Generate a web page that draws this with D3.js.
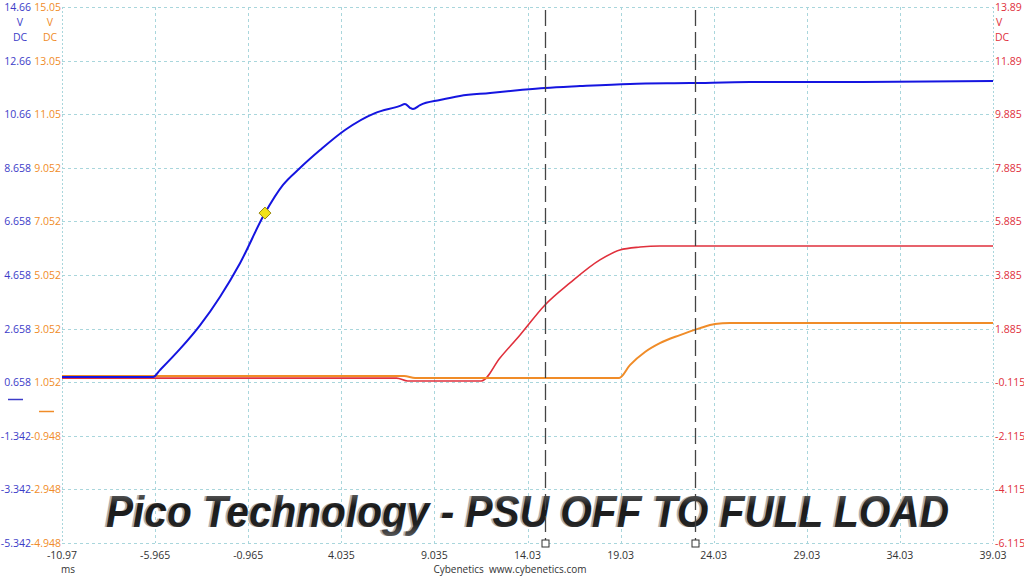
<!DOCTYPE html>
<html><head><meta charset="utf-8">
<script src="https://cdn.jsdelivr.net/npm/d3@7"></script>
<style>
body{margin:0;background:#fff;}
svg{display:block;font-family:"Open Sans","Noto Sans",sans-serif;}
</style></head>
<body><svg id="c" width="1024" height="576"></svg>
<script>
// ---- data ----
const xTicks = [-10.97,-5.965,-0.965,4.035,9.035,14.03,19.03,24.03,29.03,34.03,39.03];
const blueTicks = ["14.66","12.66","10.66","8.658","6.658","4.658","2.658","0.658","-1.342","-3.342","-5.342"];
const orangeTicks = ["15.05","13.05","11.05","9.052","7.052","5.052","3.052","1.052","-0.948","-2.948","-4.948"];
const redTicks = ["13.89","11.89","9.885","7.885","5.885","3.885","1.885","-0.115","-2.115","-4.115","-6.115"];
const blueDomain = [-5.342, 14.66];
const orangeDomain = [-4.948, 15.05];
const redDomain = [-6.115, 13.89];
const xDomain = [-10.97, 39.03];
// series: [time ms, volts]
const blueT = [-10.97,-6.08,-5.71,-4.63,-3.56,-2.48,-1.41,-0.07,0.9,1.81,2.89,4.23,5.84,7.18,7.45,7.72,7.88,8.26,9.33,10.4,12.02,13.63,14.97,16.85,19.53,22.76,25.98,31.35,39.03];
const blueV = [0.85,0.85,1.11,1.9,2.78,3.85,5.1,6.97,8.02,8.65,9.32,10.07,10.70,10.97,11.04,10.9,10.85,11.0,11.19,11.34,11.45,11.56,11.64,11.71,11.79,11.82,11.86,11.86,11.9];
const redT = [-10.97,7.0,7.6,11.55,12.55,13.63,14.97,16.31,17.92,18.99,20.07,21.14,39.03];
const redV = [0.04,0.04,-0.07,-0.07,0.79,1.65,2.77,3.59,4.45,4.82,4.93,4.97,4.97];
const orangeT = [-10.97,7.4,8.0,18.95,19.53,20.34,21.14,22.22,23.29,24.1,24.9,39.03];
const orangeV = [1.28,1.28,1.21,1.21,1.69,2.18,2.51,2.81,3.07,3.22,3.26,3.26];
const cursorT = [14.97, 23.03];
const markerT = -0.07, markerV = 6.97;
const titleText = "Pico Technology - PSU OFF TO FULL LOAD";

// ---- layout ----
const L = 62, R = 993, T = 7, B = 543;
const svg = d3.select("#c");
const x = d3.scaleLinear().domain(xDomain).range([L, R]);
const yB = d3.scaleLinear().domain(blueDomain).range([B, T]);
const yO = d3.scaleLinear().domain(orangeDomain).range([B, T]);
const yR = d3.scaleLinear().domain(redDomain).range([B, T]);

const cBlue = "#3c3cc8", cOrange = "#f08c28", cRed = "#e0303c";
const gridC = "#a9d6dc";

// grid
const g = svg.append("g");
xTicks.forEach((t,i) => {
  g.append("line").attr("x1", Math.round(x(t))+0.5).attr("x2", Math.round(x(t))+0.5).attr("y1", T).attr("y2", B)
    .attr("stroke", gridC).attr("stroke-width", 1)
    .attr("stroke-dasharray", i===0 || i===xTicks.length-1 ? "2,2" : "3,3");
});
blueTicks.forEach((t) => {
  const yy = Math.round(yB(+t)) + 0.5;
  g.append("line").attr("x1", L).attr("x2", R).attr("y1", yy).attr("y2", yy)
    .attr("stroke", gridC).attr("stroke-width", 1).attr("stroke-dasharray", "3,3");
});

// axis labels
const fs = 10.5;
blueTicks.forEach((t) => {
  svg.append("text").attr("x", 31).attr("y", yB(+t) + 4).attr("text-anchor", "end")
    .attr("font-size", fs).attr("fill", cBlue).text(t);
});
orangeTicks.forEach((t) => {
  svg.append("text").attr("x", 61).attr("y", yO(+t) + 4).attr("text-anchor", "end")
    .attr("font-size", fs).attr("fill", cOrange).text(t);
});
redTicks.forEach((t) => {
  svg.append("text").attr("x", 995).attr("y", yR(+t) + 4).attr("text-anchor", "start")
    .attr("font-size", fs).attr("fill", cRed).text(t);
});
[[20, cBlue],[50, cOrange]].forEach(([xx,c]) => {
  svg.append("text").attr("x", xx).attr("y", 26).attr("text-anchor","middle").attr("font-size", fs).attr("fill", c).text("V");
  svg.append("text").attr("x", xx).attr("y", 41).attr("text-anchor","middle").attr("font-size", fs).attr("fill", c).text("DC");
});
svg.append("text").attr("x", 996).attr("y", 26).attr("font-size", fs).attr("fill", cRed).text("V");
svg.append("text").attr("x", 995).attr("y", 41).attr("font-size", fs).attr("fill", cRed).text("DC");

xTicks.forEach((t) => {
  svg.append("text").attr("x", x(t)).attr("y", 559).attr("text-anchor","middle")
    .attr("font-size", fs).attr("fill", "#333").text(String(t));
});
svg.append("text").attr("x", 68).attr("y", 573).attr("text-anchor","middle").attr("font-size", 10).attr("fill", "#333").text("ms");
svg.append("text").attr("x", 510).attr("y", 573).attr("text-anchor","middle").attr("font-size", 10).attr("fill", "#333").attr("xml:space","preserve").text("Cybenetics  www.cybenetics.com");

// legend marks
svg.append("line").attr("x1", 8).attr("x2", 23).attr("y1", 399.5).attr("y2", 399.5).attr("stroke", cBlue).attr("stroke-width", 1.5);
svg.append("line").attr("x1", 39).attr("x2", 54).attr("y1", 411.5).attr("y2", 411.5).attr("stroke", cOrange).attr("stroke-width", 1.5);

// title
const defs = svg.append("defs");
const grad = defs.append("linearGradient").attr("id","tg").attr("x1","0").attr("y1","0").attr("x2","0").attr("y2","1");
grad.append("stop").attr("offset","0%").attr("stop-color","#808080");
grad.append("stop").attr("offset","40%").attr("stop-color","#1a1a1a");
grad.append("stop").attr("offset","75%").attr("stop-color","#222");
grad.append("stop").attr("offset","100%").attr("stop-color","#5a5a5a");
svg.append("text").attr("x", 104).attr("y", 527).attr("font-family","'Liberation Sans',Arial,sans-serif")
  .attr("font-weight","bold").attr("font-style","italic").attr("font-size", 45)
  .attr("textLength", 843).attr("lengthAdjust","spacingAndGlyphs")
  .attr("fill","#b0b0b0").text(titleText);
svg.append("text").attr("x", 106).attr("y", 527).attr("font-family","'Liberation Sans',Arial,sans-serif")
  .attr("font-weight","bold").attr("font-style","italic").attr("font-size", 45)
  .attr("textLength", 843).attr("lengthAdjust","spacingAndGlyphs")
  .attr("fill","url(#tg)").text(titleText);

// series
const mk = (ts, vs, ys) => d3.line().x((d,i)=>x(ts[i])).y((d,i)=>ys(vs[i])).curve(d3.curveMonotoneX)(ts);
svg.append("path").attr("d", mk(redT, redV, yR)).attr("fill","none").attr("stroke", cRed).attr("stroke-width", 1.6);
svg.append("path").attr("d", mk(orangeT, orangeV, yO)).attr("fill","none").attr("stroke", cOrange).attr("stroke-width", 2);
svg.append("path").attr("d", mk(blueT, blueV, yB)).attr("fill","none").attr("stroke", "#1515e0").attr("stroke-width", 2);

// marker
const mx = x(markerT), my = yB(markerV);
svg.append("path").attr("d", `M${mx},${my-6}L${mx+6},${my}L${mx},${my+6}L${mx-6},${my}Z`)
  .attr("fill","#f2e21a").attr("stroke","#9a8a10").attr("stroke-width",1);

// cursors
cursorT.forEach(t => {
  const cx = Math.round(x(t)) + 0.5;
  svg.append("line").attr("x1", cx).attr("x2", cx).attr("y1", T+3).attr("y2", B-3)
    .attr("stroke", "#444").attr("stroke-width", 1.3).attr("stroke-dasharray", "16,6");
  svg.append("rect").attr("x", cx-3.5).attr("y", B-3).attr("width", 7).attr("height", 7)
    .attr("fill","#fff").attr("stroke","#333").attr("stroke-width",1);
});
</script></body></html>
